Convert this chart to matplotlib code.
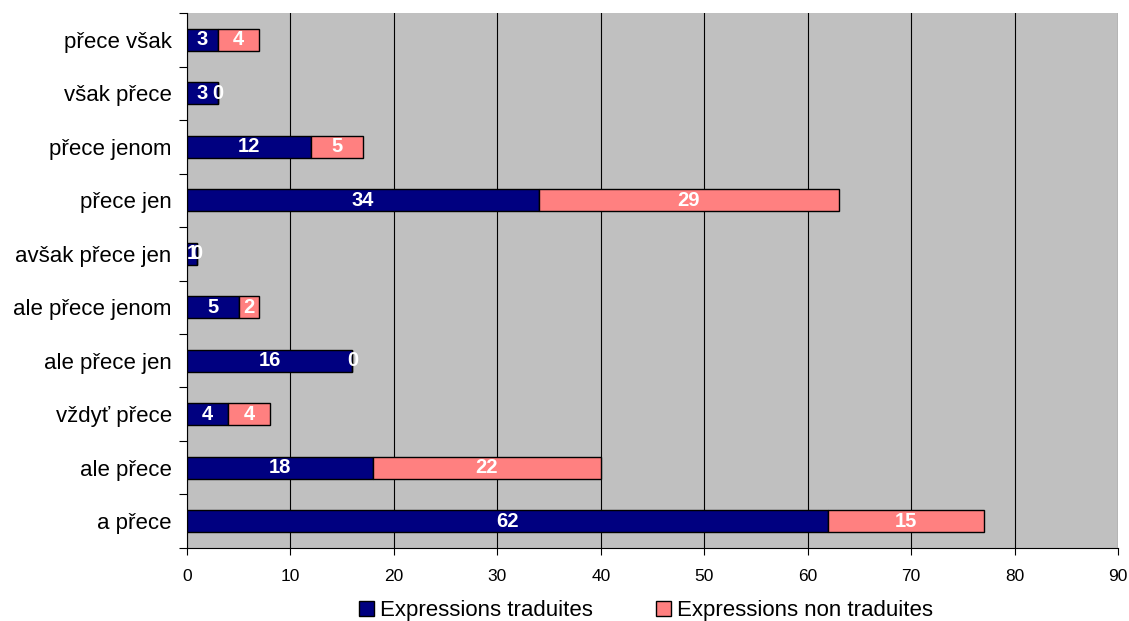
import numpy as np
import matplotlib.pyplot as plt

plt.rcParams['font.family'] = ['Liberation Sans', 'DejaVu Sans']

# data (bottom to top)
categories = ["a přece", "ale přece", "vždyť přece", "ale přece jen", "ale přece jenom",
              "avšak přece jen", "přece jen", "přece jenom", "však přece", "přece však"]
traduites = [62, 18, 4, 16, 5, 1, 34, 12, 3, 3]
non_traduites = [15, 22, 4, 0, 2, 0, 29, 5, 0, 4]
xticks = [0, 10, 20, 30, 40, 50, 60, 70, 80, 90]

fig = plt.figure(figsize=(11.29, 6.21), dpi=100)
ax = fig.add_axes([0.1656, 0.1176, 0.8247, 0.8614])
ax.set_facecolor('#C0C0C0')

y = np.arange(len(categories))
b1 = ax.barh(y, traduites, height=0.41, color='#000080', edgecolor='black', linewidth=1,
             label="Expressions traduites", zorder=3)
b2 = ax.barh(y, non_traduites, left=traduites, height=0.41, color='#FF8080',
             edgecolor='black', linewidth=1, label="Expressions non traduites", zorder=3)

for bars in (b1, b2):
    ax.bar_label(bars, label_type='center', color='white', fontweight='bold',
                 fontsize=14.5, zorder=4)

ax.set_xlim(0, 90)
ax.set_ylim(-0.5, len(categories) - 0.5)
ax.set_xticks(xticks)
ax.xaxis.grid(True, color='black', linewidth=0.8, zorder=1)
ax.set_axisbelow(True)

ax.set_yticks(y)
ax.set_yticklabels(categories, fontsize=16)
ax.tick_params(axis='y', length=0, pad=11)
# tick marks between categories
ax.set_yticks(np.arange(-0.5, len(categories), 1), minor=True)
ax.tick_params(axis='y', which='minor', length=6, width=0.8)
ax.tick_params(axis='x', length=5, width=0.8, labelsize=12.5, pad=10)

for s in ['top', 'right']:
    ax.spines[s].set_visible(False)
for s in ['left', 'bottom']:
    ax.spines[s].set_linewidth(0.8)

ax.legend(loc='center', bbox_to_anchor=(0.493, -0.117), ncol=2, frameon=False,
          fontsize=16, handlelength=0.68, handleheight=0.68, handletextpad=0.27,
          columnspacing=2.85, borderaxespad=0, borderpad=0)

plt.savefig("out.png", dpi=100)
